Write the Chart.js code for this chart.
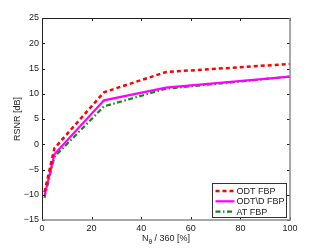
<!DOCTYPE html>
<html>
<head>
<meta charset="utf-8">
<script src="https://cdn.jsdelivr.net/npm/chart.js@4"></script>
<style>
  html, body { margin: 0; padding: 0; background: #fff; }
  #wrap { width: 320px; height: 249px; }
</style>
</head>
<body>
<div id="wrap"><canvas id="c" width="320" height="249"></canvas></div>
<script>
const X_VALUES = [1, 5, 25, 50, 100];
const ODT_FBP = [-9.5, -0.8, 10.3, 14.3, 15.9];
const ODTD_FBP = [-10.2, -2.0, 8.7, 11.2, 13.4];
const AT_FBP = [-10.6, -2.5, 7.5, 11.0, 13.4];
const X_TICKS = [0, 20, 40, 60, 80, 100];
const Y_TICKS = [-15, -10, -5, 0, 5, 10, 15, 20, 25];

const FONT = '"Liberation Sans", Arial, sans-serif';

const pts = ys => X_VALUES.map((x, i) => ({ x, y: ys[i] }));

const boxPlugin = {
    id: 'matlabBox',
    afterDraw(chart) {
        const { ctx, chartArea: a, scales } = chart;
        ctx.save();
        // inward ticks
        ctx.strokeStyle = '#222';
        ctx.lineWidth = 1;
        ctx.beginPath();
        X_TICKS.forEach(t => {
            const x = Math.round(scales.x.getPixelForValue(t)) + 0.5;
            ctx.moveTo(x, a.bottom); ctx.lineTo(x, a.bottom - 3);
            ctx.moveTo(x, a.top); ctx.lineTo(x, a.top + 3);
        });
        Y_TICKS.forEach(t => {
            const y = Math.round(scales.y.getPixelForValue(t)) + 0.5;
            ctx.moveTo(a.left, y); ctx.lineTo(a.left + 3, y);
            ctx.moveTo(a.right, y); ctx.lineTo(a.right - 3, y);
        });
        ctx.stroke();
        // box
        ctx.strokeStyle = '#222';
        ctx.beginPath();
        ctx.moveTo(a.left + 0.5, a.bottom); ctx.lineTo(a.left + 0.5, a.top + 0.5); ctx.lineTo(a.right, a.top + 0.5);
        ctx.stroke();
        ctx.strokeStyle = '#8c8c8c';
        ctx.lineWidth = 1.5;
        ctx.beginPath();
        ctx.moveTo(a.right, a.top); ctx.lineTo(a.right, a.bottom); ctx.lineTo(a.left, a.bottom);
        ctx.stroke();

        // axis titles
        ctx.fillStyle = '#222';
        ctx.font = '9px ' + FONT;
        ctx.textBaseline = 'alphabetic';
        const cx = (a.left + a.right) / 2;
        const parts = [['N', 9, 0], ['\u03B8', 6.5, 2.5], [' / 360 [%]', 9, 0]];
        let w = 0;
        parts.forEach(p => { ctx.font = p[1] + 'px ' + FONT; w += ctx.measureText(p[0]).width; });
        let x = cx - w / 2;
        parts.forEach(p => {
            ctx.font = p[1] + 'px ' + FONT;
            ctx.fillText(p[0], x, 241 + p[2]);
            x += ctx.measureText(p[0]).width;
        });
        ctx.save();
        ctx.translate(20, (a.top + a.bottom) / 2);
        ctx.rotate(-Math.PI / 2);
        ctx.font = '9px ' + FONT;
        ctx.textAlign = 'center';
        ctx.fillText('RSNR [dB]', 0, 0);
        ctx.restore();

        // legend
        const lx = 212.5, ly = 183.5, lw = 74, lh = 34;
        ctx.fillStyle = '#fff';
        ctx.fillRect(lx, ly, lw, lh);
        ctx.strokeStyle = '#333';
        ctx.lineWidth = 1;
        ctx.strokeRect(lx, ly, lw, lh);
        chart.data.datasets.forEach((ds, i) => {
            const y = ly + 7.5 + i * 10.3;
            ctx.strokeStyle = ds.borderColor;
            ctx.lineWidth = ds.borderWidth;
            ctx.setLineDash(ds.borderDash || []);
            ctx.beginPath();
            ctx.moveTo(lx + 3, y); ctx.lineTo(lx + 22, y);
            ctx.stroke();
            ctx.setLineDash([]);
            ctx.fillStyle = '#222';
            ctx.font = '9px ' + FONT;
            ctx.textBaseline = 'middle';
            ctx.fillText(ds.label, lx + 24, y + 0.5);
        });
        ctx.restore();
    }
};

new Chart(document.getElementById('c'), {
    type: 'line',
    data: {
        datasets: [
            { label: 'ODT FBP', data: pts(ODT_FBP), borderColor: '#ff0000', borderWidth: 2.5, borderDash: [4, 3] },
            { label: 'ODT\\D FBP', data: pts(ODTD_FBP), borderColor: '#ff00ff', borderWidth: 2.2 },
            { label: 'AT FBP', data: pts(AT_FBP), borderColor: '#118811', borderWidth: 2.2, borderDash: [5, 2.5, 1.5, 2.5] }
        ]
    },
    options: {
        responsive: false,
        animation: false,
        layout: { padding: { left: 0, right: 30, top: 18, bottom: 0 } },
        elements: { point: { radius: 0 }, line: { tension: 0 } },
        plugins: { legend: { display: false }, tooltip: { enabled: false } },
        scales: {
            x: {
                type: 'linear', min: 0, max: 100,
                afterBuildTicks: s => { s.ticks = X_TICKS.map(v => ({ value: v })); },
                afterFit: s => { s.height = 29; },
                grid: { display: false, drawTicks: false },
                border: { display: false },
                ticks: { color: '#222', font: { family: FONT, size: 9 }, padding: 3, maxRotation: 0 }
            },
            y: {
                type: 'linear', min: -15, max: 25,
                afterBuildTicks: s => { s.ticks = Y_TICKS.map(v => ({ value: v })); },
                afterFit: s => { s.width = 42; },
                grid: { display: false, drawTicks: false },
                border: { display: false },
                ticks: {
                    color: '#222', font: { family: FONT, size: 9 }, padding: 3,
                    callback: v => String(v).replace('-', '\u2212')
                }
            }
        }
    },
    plugins: [boxPlugin]
});
</script>
</body>
</html>
